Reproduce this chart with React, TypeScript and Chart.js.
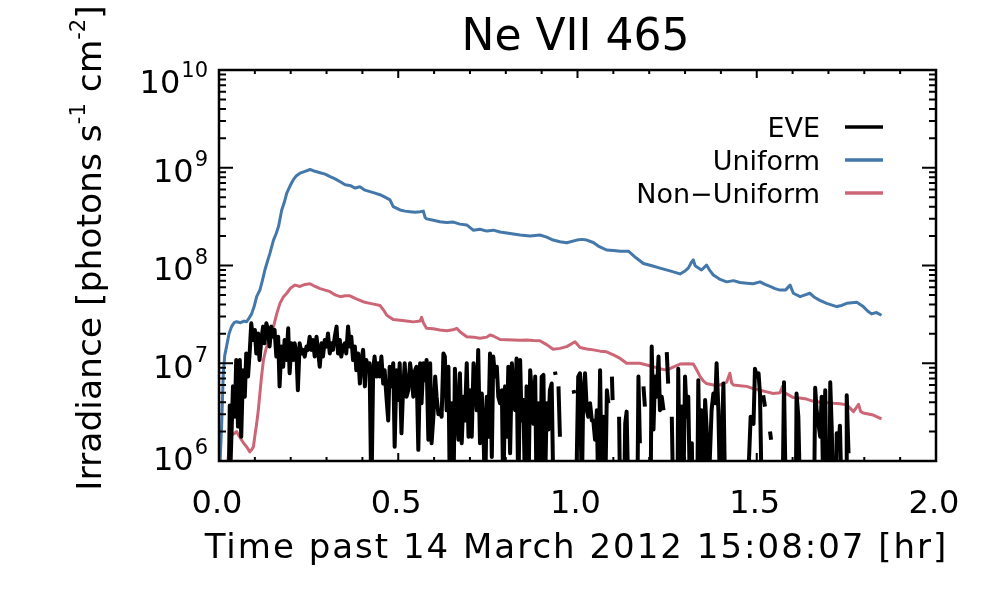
import React, { useEffect, useRef } from 'react';
import { Chart, registerables } from 'chart.js';

Chart.register(...registerables);

const FONT = '"DejaVu Sans", "Liberation Sans", sans-serif';
const BLUE = '#4477aa';
const ROSE = '#cc6677';

// Uniform model (blue)
const uniformTime = [
  0.002, 0.0075, 0.012, 0.016, 0.021, 0.028, 0.035, 0.042, 0.049, 0.06, 0.07, 0.077, 0.084, 0.091, 0.098,
  0.105, 0.114, 0.121, 0.128, 0.135, 0.142, 0.152, 0.159, 0.166, 0.175, 0.182, 0.189, 0.198, 0.207, 0.216,
  0.226, 0.24, 0.254, 0.268, 0.282, 0.296, 0.31, 0.324, 0.338, 0.352, 0.365, 0.38, 0.393, 0.407, 0.421,
  0.435, 0.449, 0.463, 0.477, 0.486, 0.505, 0.519, 0.533, 0.547, 0.561, 0.57, 0.575, 0.579, 0.598, 0.616,
  0.635, 0.654, 0.672, 0.691, 0.709, 0.728, 0.747, 0.765, 0.784, 0.812, 0.84, 0.868, 0.895, 0.914, 0.932,
  0.951, 0.97, 0.998, 1.012, 1.026, 1.044, 1.058, 1.081, 1.1, 1.119, 1.142, 1.163, 1.184, 1.205, 1.23,
  1.258, 1.286, 1.3, 1.309, 1.318, 1.323, 1.328, 1.332, 1.346, 1.36, 1.37, 1.379, 1.398, 1.416, 1.435,
  1.453, 1.472, 1.49, 1.509, 1.523, 1.537, 1.551, 1.565, 1.58, 1.593, 1.602, 1.621, 1.635, 1.648, 1.662,
  1.676, 1.695, 1.723, 1.737, 1.751, 1.779, 1.797, 1.81, 1.82, 1.834, 1.848,
];
const uniformFlux = [
  8e5, 2.4e6, 7.9e6, 1.2e7, 1.48e7, 2.0e7, 2.37e7, 2.6e7, 2.66e7, 2.6e7, 2.7e7, 2.66e7, 2.9e7, 3.2e7, 3.8e7,
  4.8e7, 5.6e7, 7.0e7, 9.0e7, 1.1e8, 1.33e8, 1.82e8, 2.1e8, 2.5e8, 3.7e8, 4.4e8, 5.5e8, 6.5e8, 7.5e8, 8.3e8,
  8.8e8, 9.2e8, 9.6e8, 9.2e8, 8.9e8, 8.6e8, 8.1e8, 7.7e8, 7.2e8, 6.7e8, 6.6e8, 6.2e8, 6.4e8, 5.9e8, 5.7e8,
  5.5e8, 5.3e8, 5.0e8, 4.7e8, 4.0e8, 3.7e8, 3.6e8, 3.55e8, 3.5e8, 3.55e8, 3.6e8, 3.1e8, 3.0e8, 2.9e8, 2.8e8,
  2.75e8, 2.78e8, 2.65e8, 2.6e8, 2.3e8, 2.35e8, 2.25e8, 2.3e8, 2.2e8, 2.13e8, 2.05e8, 2.0e8, 2.05e8, 1.95e8, 1.82e8,
  1.75e8, 1.71e8, 1.82e8, 1.85e8, 1.82e8, 1.72e8, 1.58e8, 1.44e8, 1.42e8, 1.4e8, 1.4e8, 1.2e8, 1.05e8, 1.0e8, 9.4e7,
  8.8e7, 8.2e7, 8.8e7, 9.4e7, 1.08e8, 1.14e8, 1.0e8, 9.7e7, 9.0e7, 1.01e8, 8.8e7, 8.0e7, 7.2e7, 6.8e7, 7.0e7,
  6.7e7, 6.6e7, 6.5e7, 6.8e7, 6.4e7, 6.1e7, 5.8e7, 5.6e7, 5.6e7, 6.3e7, 5.2e7, 4.8e7, 5.0e7, 5.2e7, 4.7e7,
  4.4e7, 4.1e7, 3.8e7, 3.9e7, 4.1e7, 4.2e7, 3.8e7, 3.4e7, 3.2e7, 3.3e7, 3.1e7,
];

// Non-uniform model (rose)
const nonUniformTime = [
  0.024, 0.026, 0.03, 0.035, 0.042, 0.049, 0.056, 0.063, 0.07, 0.077, 0.086, 0.091, 0.096, 0.1, 0.105,
  0.11, 0.114, 0.119, 0.124, 0.131, 0.138, 0.145, 0.152, 0.161, 0.17, 0.18, 0.189, 0.2, 0.212, 0.226,
  0.24, 0.254, 0.268, 0.282, 0.296, 0.31, 0.324, 0.338, 0.352, 0.365, 0.38, 0.393, 0.407, 0.421, 0.435,
  0.449, 0.459, 0.468, 0.486, 0.505, 0.523, 0.542, 0.561, 0.565, 0.57, 0.579, 0.598, 0.616, 0.635, 0.653,
  0.663, 0.672, 0.691, 0.71, 0.728, 0.747, 0.756, 0.765, 0.784, 0.803, 0.821, 0.84, 0.858, 0.877, 0.895,
  0.914, 0.932, 0.951, 0.97, 0.993, 1.007, 1.026, 1.044, 1.063, 1.081, 1.1, 1.119, 1.137, 1.156, 1.174,
  1.193, 1.212, 1.23, 1.249, 1.268, 1.286, 1.305, 1.323, 1.333, 1.342, 1.351, 1.36, 1.379, 1.398, 1.416,
  1.425, 1.43, 1.435, 1.453, 1.472, 1.49, 1.509, 1.528, 1.546, 1.565, 1.572, 1.578, 1.602, 1.62, 1.639,
  1.658, 1.686, 1.714, 1.733, 1.751, 1.77, 1.784, 1.79, 1.797, 1.825, 1.848,
];
const nonUniformFlux = [
  9e5, 1.1e6, 1.6e6, 1.85e6, 1.9e6, 2.0e6, 1.8e6, 1.64e6, 1.5e6, 1.4e6, 1.24e6, 1.3e6, 1.4e6, 1.8e6, 2.4e6,
  3.4e6, 4.9e6, 7.5e6, 1.08e7, 1.4e7, 1.66e7, 2.0e7, 2.37e7, 3.2e7, 4.1e7, 4.8e7, 5.2e7, 5.9e7, 6.3e7, 6.1e7,
  6.4e7, 6.5e7, 6.1e7, 5.8e7, 5.6e7, 5.4e7, 5.0e7, 4.8e7, 4.9e7, 4.9e7, 4.6e7, 4.4e7, 4.2e7, 4.1e7, 4.0e7,
  3.9e7, 3.5e7, 3.1e7, 2.8e7, 2.75e7, 2.7e7, 2.65e7, 2.7e7, 2.95e7, 2.6e7, 2.28e7, 2.25e7, 2.19e7, 2.15e7, 2.2e7,
  2.28e7, 2.1e7, 1.87e7, 1.85e7, 1.8e7, 1.85e7, 1.95e7, 1.9e7, 1.75e7, 1.74e7, 1.73e7, 1.72e7, 1.73e7, 1.71e7, 1.7e7,
  1.55e7, 1.39e7, 1.42e7, 1.48e7, 1.66e7, 1.45e7, 1.4e7, 1.37e7, 1.33e7, 1.31e7, 1.22e7, 1.12e7, 1.0e7, 1.0e7, 1.0e7,
  9.6e6, 9.2e6, 8.8e6, 8.5e6, 9.2e6, 9.8e6, 9.9e6, 9.8e6, 8.5e6, 7.3e6, 6.6e6, 6.2e6, 6.0e6, 6.0e6, 6.4e6,
  7.9e6, 6.3e6, 6.0e6, 5.9e6, 5.8e6, 5.5e6, 5.3e6, 5.1e6, 4.9e6, 5.0e6, 5.8e6, 5.0e6, 4.45e6, 4.4e6, 4.3e6,
  4.07e6, 4.0e6, 3.9e6, 3.85e6, 3.75e6, 3.2e6, 3.8e6, 3.2e6, 3.1e6, 2.95e6, 2.7e6,
];

// EVE measurement (black); null = no data, 4e5 = below the plotted range
const eveTime = [
  0.027, 0.03, 0.0325, 0.039, 0.044, 0.048, 0.053, 0.058, 0.062, 0.067, 0.072, 0.076, 0.081, 0.086, 0.09,
  0.095, 0.1, 0.104, 0.109, 0.113, 0.118, 0.123, 0.127, 0.132, 0.137, 0.141, 0.146, 0.151, 0.155, 0.16,
  0.165, 0.169, 0.174, 0.179, 0.183, 0.188, 0.193, 0.197, 0.202, 0.207, 0.211, 0.216, 0.22, 0.225, 0.23,
  0.234, 0.239, 0.244, 0.248, 0.253, 0.258, 0.262, 0.267, 0.272, 0.276, 0.281, 0.286, 0.29, 0.295, 0.3,
  0.304, 0.309, 0.314, 0.318, 0.323, 0.328, 0.332, 0.337, 0.341, 0.346, 0.351, 0.355, 0.36, 0.365, 0.369,
  0.374, 0.379, 0.383, 0.388, 0.393, 0.397, 0.402, 0.407, 0.411, 0.416, 0.42, 0.425, 0.43, 0.434, 0.439,
  0.444, 0.448, 0.453, 0.458, 0.462, 0.467, 0.472, 0.476, 0.481, 0.486, 0.49, 0.495, 0.5, 0.504, 0.509,
  0.513, 0.518, 0.523, 0.528, 0.533, 0.5375, 0.542, 0.547, 0.551, 0.556, 0.561, 0.565, 0.57, 0.575, 0.579,
  0.584, 0.589, 0.593, 0.598, 0.603, 0.607, 0.612, 0.617, 0.621, 0.626, 0.63, 0.635, 0.64, 0.644, 0.649,
  0.654, 0.658, 0.663, 0.668, 0.672, 0.677, 0.682, 0.686, 0.691, 0.696, 0.7, 0.705, 0.71, 0.714, 0.719,
  0.723, 0.728, 0.733, 0.737, 0.742, 0.747, 0.751, 0.756, 0.761, 0.765, 0.77, 0.775, 0.779, 0.784, 0.789,
  0.793, 0.798, 0.803, 0.807, 0.812, 0.817, 0.821, 0.826, 0.83, 0.835, 0.84, 0.844, 0.849, 0.854, 0.858,
  0.863, 0.868, 0.872, 0.877, 0.882, 0.886, 0.891, 0.896, 0.9, 0.905, 0.909, 0.914, 0.919, 0.923, 0.928,
  0.933, 0.935, 0.937, 0.939, 0.942, 0.947, 0.951, 0.97, 0.989, 0.991, 0.993, 0.996, 1.002, 1.007, 1.012,
  1.016, 1.021, 1.026, 1.03, 1.035, 1.04, 1.044, 1.049, 1.054, 1.058, 1.063, 1.068, 1.072, 1.077, 1.082,
  1.086, 1.09, 1.096, 1.098, 1.105, 1.116, 1.119, 1.124, 1.13, 1.133, 1.137, 1.142, 1.155, 1.167, 1.17,
  1.174, 1.179, 1.184, 1.188, 1.195, 1.204, 1.207, 1.212, 1.216, 1.221, 1.226, 1.23, 1.235, 1.24, 1.245,
  1.249, 1.253, 1.258, 1.263, 1.267, 1.273, 1.279, 1.281, 1.286, 1.291, 1.295, 1.3, 1.305, 1.309, 1.314,
  1.319, 1.321, 1.328, 1.334, 1.337, 1.342, 1.346, 1.351, 1.356, 1.36, 1.365, 1.374, 1.379, 1.384, 1.388,
  1.393, 1.398, 1.407, 1.412, 1.44, 1.474, 1.483, 1.491, 1.495, 1.5, 1.505, 1.509, 1.514, 1.516, 1.518,
  1.523, 1.53, 1.537, 1.54, 1.555, 1.572, 1.576, 1.581, 1.595, 1.609, 1.611, 1.616, 1.621, 1.64, 1.66,
  1.663, 1.667, 1.672, 1.677, 1.681, 1.686, 1.691, 1.695, 1.699, 1.703, 1.705, 1.709, 1.714, 1.718, 1.721,
  1.723, 1.728, 1.732, 1.737, 1.742, 1.749, 1.751, 1.756,
];
const eveFlux = [
  4e5, 3.7e6, 1.0e6, 5.8e6, 2.84e6, 1.08e7, 2.25e6, 1.08e7, 1.77e6, 8.5e6, 4.55e6, 1.26e7, 7.3e6, 1.37e7, 2.56e7,
  1.73e7, 2.19e7, 1.26e7, 2.02e7, 1.08e7, 1.73e7, 2.37e7, 1.6e7, 2.56e7, 2.19e7, 1.48e7, 2.37e7, 1.87e7, 2.19e7, 1.17e7,
  1.87e7, 5.8e6, 1.48e7, 9.2e6, 1.73e7, 1.08e7, 2.28e7, 7.9e6, 1.6e7, 1.08e7, 1.6e7, 1.26e7, 5.3e6, 1.6e7, 1.26e7,
  1.37e7, 1.17e7, 1.48e7, 1.37e7, 1.87e7, 1.37e7, 1.73e7, 1.17e7, 1.87e7, 1.37e7, 9.2e6, 1.6e7, 1.17e7, 1.73e7, 1.48e7,
  2.02e7, 1.26e7, 1.6e7, 1.37e7, 1.87e7, 2.37e7, 1.26e7, 1.73e7, 1.17e7, 1.48e7, 1.6e7, 1.26e7, 2.37e7, 1.48e7, 1.87e7,
  1.08e7, 1.48e7, 8.5e6, 1.26e7, 6.2e6, 1.08e7, 1.37e7, 5.8e6, 1.08e7, 8.5e6, 1.0e7, 4e5, 8.5e6, 1.17e7, 7.3e6,
  1.0e7, 7.3e6, 1.17e7, 6.2e6, 8.5e6, 4.55e6, 2.6e6, 9.2e6, 5.8e6, 1.0e7, 1.4e6, 8.5e6, 4.2e6, 1.0e7, 1.92e6,
  4.9e6, 1.0e7, 4.55e6, 5.3e6, 1.0e7, 7.3e6, 4.55e6, 8.5e6, 9.2e6, 1.3e6, 1.0e7, 3.9e6, 1.0e7, 6.7e6, 1.08e7,
  1.65e6, 1.0e7, 1.52e6, 2.84e6, 7.3e6, 4.55e6, 3.0e6, 3.3e6, 2.84e6, 1.26e7, 1.17e7, 3.3e6, 9.2e6, 4e5, 3.9e6,
  4e5, 8.8e6, 3.3e6, 1.65e6, 7.9e6, 1.52e6, 4.55e6, 2.6e6, 1.0e7, 1.77e6, 5.3e6, 1.77e6, 1.0e7, 6.7e6, 3.3e6,
  1.37e7, 1.52e6, 4.9e6, 2.6e6, 4e5, 4.55e6, 1.77e6, 1.26e7, 1.1e6, 1.17e7, 7.3e6, 9.2e6, 4.55e6, 3.9e6, 5.3e6,
  4e5, 5.8e6, 1.77e6, 9.2e6, 1.2e6, 1.0e7, 4.9e6, 3.3e6, 1.12e7, 4e5, 1.08e7, 2.6e6, 4.2e6, 4e5, 5.8e6,
  4e5, 8.5e6, 5.3e6, 2.4e6, 7.3e6, 4e5, 3.9e6, 4e5, 7.3e6, 7.6e6, 4e5, 3.9e6, 2.1e6, 5.3e6, 6.2e6,
  4e5, null, 8.2e6, 7.6e6, null, 5.8e6, 1.77e6, null, 5.3e6, 4.9e6, null, 4e5, 7.3e6, 7.9e6, 4e5,
  4.9e6, 7.9e6, 3.3e6, 2.84e6, 3.9e6, 2.6e6, 2.6e6, 1.65e6, 3.3e6, 4e5, 8.5e6, 4e5, 2.84e6, 4e5, 5.3e6,
  3.9e6, null, 7.3e6, 4.2e6, null, 2.84e6, 4e5, null, 4e5, 2.4e6, 3.2e6, 4e5, null, 4e5, 7.3e6,
  1.52e6, null, 5.8e6, 3.6e6, null, 4e5, 1.48e7, 2.1e6, 7.3e6, 4.55e6, 1.17e7, 3.3e6, 4.55e6, 3.3e6, null,
  1.3e7, 6.2e6, null, 2.84e6, 4e5, null, 4e5, 8.8e6, 4e5, 3.6e6, 4e5, 7.3e6, 2.84e6, 4.55e6, 4e5,
  1.52e6, 4e5, null, 4e5, 6.7e6, 4e5, 3.3e6, 4e5, 4.2e6, 2.25e6, 4e5, 3.3e6, 4.9e6, 3.9e6, 1.0e7,
  3.3e6, 4e5, 6.2e6, 4e5, null, 4e5, 2.84e6, 2.4e6, 8.8e6, 7.3e6, 7.9e6, 4.9e6, 4e5, null, 4.7e6,
  3.6e6, null, 2.0e6, 1.65e6, null, 4e5, 6.4e6, 4e5, null, 4e5, 4.9e6, 2.84e6, 4e5, null, 4e5,
  5.6e6, 3.3e6, 2.4e6, 1.77e6, 4.55e6, 4e5, 5.3e6, 4e5, null, 4e5, 6.4e6, 2.25e6, 4e5, null, 4e5,
  1.92e6, 1.4e6, 2.3e6, 4e5, null, 4e5, 4.7e6, 1.2e6,
];

const xMajorTicks = [0, 0.5, 1.0, 1.5, 2.0];
const xTickLabels = ['0.0', '0.5', '1.0', '1.5', '2.0'];
const xMinorTicks = [0.1, 0.2, 0.3, 0.4, 0.6, 0.7, 0.8, 0.9, 1.1, 1.2, 1.3, 1.4, 1.6, 1.7, 1.8, 1.9];
const yDecades = [6, 7, 8, 9, 10];

const legendItems = [
  { label: 'EVE', color: '#000000' },
  { label: 'Uniform', color: BLUE },
  { label: 'Non\u2212Uniform', color: ROSE },
];

const toPoints = (t: number[], v: (number | null)[]) => t.map((x, i) => ({ x, y: v[i] }));

const idlFrame = {
  id: 'idlFrame',
  afterDraw(chart: any) {
    const { ctx, chartArea: a, scales } = chart;
    const xs = scales.x;
    const ys = scales.y;
    ctx.save();

    // frame + inward ticks
    ctx.strokeStyle = '#000';
    ctx.lineWidth = 2.5;
    ctx.strokeRect(a.left, a.top, a.right - a.left, a.bottom - a.top);
    ctx.lineWidth = 2;
    ctx.beginPath();
    const xTick = (v: number, len: number) => {
      const px = xs.getPixelForValue(v);
      ctx.moveTo(px, a.bottom); ctx.lineTo(px, a.bottom - len);
      ctx.moveTo(px, a.top); ctx.lineTo(px, a.top + len);
    };
    const yTick = (v: number, len: number) => {
      const py = ys.getPixelForValue(v);
      ctx.moveTo(a.left, py); ctx.lineTo(a.left + len, py);
      ctx.moveTo(a.right, py); ctx.lineTo(a.right - len, py);
    };
    xMajorTicks.forEach(v => xTick(v, 8));
    xMinorTicks.forEach(v => xTick(v, 4));
    yDecades.forEach(d => {
      yTick(Math.pow(10, d), 14);
      if (d < 10) for (let m = 2; m <= 9; m++) yTick(m * Math.pow(10, d), 7);
    });
    ctx.stroke();

    ctx.fillStyle = '#000';

    // x tick labels
    ctx.font = `32px ${FONT}`;
    ctx.textAlign = 'center';
    ctx.textBaseline = 'alphabetic';
    xMajorTicks.forEach((v, i) => ctx.fillText(xTickLabels[i], xs.getPixelForValue(v) - 2, 513));

    // y tick labels 10^n
    yDecades.forEach(d => {
      const py = ys.getPixelForValue(Math.pow(10, d));
      const base = d === 10 ? py + 23 : d === 6 ? py + 9 : py + 14.5;
      ctx.font = `21px ${FONT}`;
      const sup = String(d);
      const supW = ctx.measureText(sup).width;
      ctx.textAlign = 'right';
      ctx.fillText(sup, 208, base - 16);
      ctx.font = `32px ${FONT}`;
      ctx.fillText('10', 208 - supW - 1, base);
    });

    // title
    ctx.textAlign = 'center';
    ctx.font = `44px ${FONT}`;
    ctx.fillText('Ne VII 465', (a.left + a.right) / 2 - 2, 50);

    // x axis title
    ctx.font = `34px ${FONT}`;
    (ctx as any).letterSpacing = '2px';
    ctx.fillText('Time past 14 March 2012 15:08:07 [hr]', (a.left + a.right) / 2 - 1, 558);
    (ctx as any).letterSpacing = '0px';

    // y axis title, rotated, with superscripts
    const parts: [string, boolean][] = [
      ['Irradiance [photons s', false], ['-1', true], [' cm', false], ['-2', true], [']', false],
    ];
    const widthOf = (p: [string, boolean]) => {
      ctx.font = p[1] ? `21px ${FONT}` : `34.5px ${FONT}`;
      return ctx.measureText(p[0]).width;
    };
    const total = parts.reduce((s, p) => s + widthOf(p), 0);
    ctx.save();
    ctx.translate(101, 248);
    ctx.rotate(-Math.PI / 2);
    ctx.textAlign = 'left';
    let cx = -total / 2;
    parts.forEach(p => {
      const w = widthOf(p);
      ctx.fillText(p[0], cx, p[1] ? -16 : 0);
      cx += w;
    });
    ctx.restore();

    // legend
    ctx.font = `27px ${FONT}`;
    ctx.textAlign = 'right';
    legendItems.forEach((it, i) => {
      const y = 127 + i * 33;
      ctx.fillStyle = '#000';
      ctx.fillText(it.label, 820, y + 10);
      ctx.strokeStyle = it.color;
      ctx.lineWidth = 3.5;
      ctx.beginPath();
      ctx.moveTo(845, y);
      ctx.lineTo(883, y);
      ctx.stroke();
    });

    ctx.restore();
  },
};

export default function App() {
  const canvasRef = useRef<HTMLCanvasElement>(null);
  const chartRef = useRef<Chart | null>(null);

  useEffect(() => {
    document.body.style.margin = '0';
    if (!canvasRef.current) return;
    if (chartRef.current) chartRef.current.destroy();

    chartRef.current = new Chart(canvasRef.current, {
      type: 'line',
      data: {
        datasets: [
          {
            label: 'Uniform',
            data: toPoints(uniformTime, uniformFlux),
            borderColor: BLUE,
            borderWidth: 3,
            order: 2,
          },
          {
            label: 'Non-Uniform',
            data: toPoints(nonUniformTime, nonUniformFlux),
            borderColor: ROSE,
            borderWidth: 3,
            order: 1,
          },
          {
            label: 'EVE',
            data: toPoints(eveTime, eveFlux),
            borderColor: '#000000',
            borderWidth: 4,
            order: 0,
          },
        ],
      },
      options: {
        responsive: true,
        maintainAspectRatio: false,
        animation: false,
        elements: {
          point: { radius: 0, hoverRadius: 0 },
          line: { tension: 0, borderJoinStyle: 'round', fill: false },
        },
        datasets: { line: { spanGaps: false, clip: 0 } as any },
        layout: { padding: { top: 70, right: 64, left: 0, bottom: 0 } },
        plugins: { legend: { display: false }, tooltip: { enabled: false }, title: { display: false } },
        events: [],
        scales: {
          x: {
            type: 'linear',
            min: 0,
            max: 2,
            ticks: { display: false },
            grid: { display: false },
            border: { display: false },
            afterFit: (s: any) => { s.height = 139; },
          },
          y: {
            type: 'logarithmic',
            min: 1e6,
            max: 1e10,
            ticks: { display: false },
            grid: { display: false },
            border: { display: false },
            afterFit: (s: any) => { s.width = 219; },
          },
        },
      },
      plugins: [idlFrame],
    });

    return () => { chartRef.current?.destroy(); chartRef.current = null; };
  }, []);

  return (
    <div style={{ width: 1000, height: 600, position: 'relative', background: '#fff' }}>
      <canvas ref={canvasRef} />
    </div>
  );
}
